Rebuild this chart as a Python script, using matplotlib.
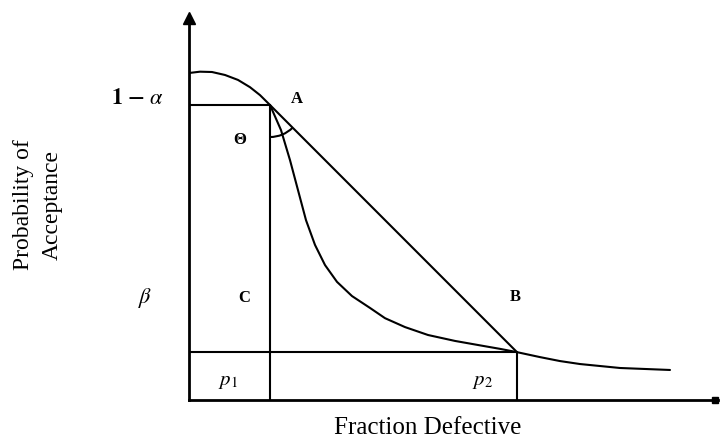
import numpy as np
import matplotlib.pyplot as plt
from matplotlib.patches import Arc
from matplotlib.transforms import ScaledTranslation

plt.rcParams['font.family'] = ['Liberation Serif', 'DejaVu Serif']
plt.rcParams['mathtext.fontset'] = 'stix'

# ============================================================
# Schematic OC-curve data (fraction defective, P(accept))
# ============================================================

p1 = 0.081
p2 = 0.328
one_minus_alpha = 0.894
beta = 0.145

# curve above A
upper_x = [0.000, 0.011, 0.023, 0.036, 0.049, 0.061, 0.071, 0.081]
upper_y = [0.991, 0.995, 0.994, 0.985, 0.970, 0.948, 0.924, 0.894]

# steep curve from A through B and the tail
lower_x = [0.081, 0.092, 0.101, 0.109, 0.117, 0.126, 0.136, 0.148, 0.163,
           0.181, 0.196, 0.216, 0.239, 0.266, 0.294, 0.311, 0.328, 0.351,
           0.371, 0.391, 0.411, 0.431, 0.456, 0.481]
lower_y = [0.894, 0.818, 0.727, 0.636, 0.545, 0.470, 0.409, 0.358, 0.315,
           0.279, 0.248, 0.221, 0.197, 0.179, 0.164, 0.155, 0.145, 0.130,
           0.118, 0.109, 0.103, 0.097, 0.094, 0.091]

x_max = 0.529
y_max = 1.188

# ============================================================
# Figure
# ============================================================

fig = plt.figure(figsize=(7.2, 4.41), dpi=100)
ax = fig.add_axes([189 / 720, 41 / 441, 529 / 720, 392 / 441])
ax.set_xlim(0, x_max)
ax.set_ylim(0, y_max)
ax.axis('off')

lw = 1.5
col = 'black'
kw = dict(color=col, lw=lw, solid_joinstyle='round', solid_capstyle='round')

# axes with arrows
ax.plot([0, 0], [0, y_max - 0.02], color=col, lw=2.0, clip_on=False)
ax.plot([0, x_max], [0, 0], color=col, lw=2.0, clip_on=False)
ax.plot([0], [y_max - 0.03], marker='^', color=col, ms=8, clip_on=False)
ax.plot([x_max - 0.003], [0], marker='s', color=col, ms=4, clip_on=False)

# curves
ax.plot(upper_x, upper_y, **kw)
ax.plot(lower_x, lower_y, **kw)

# straight line A -> B
ax.plot([p1, p2], [one_minus_alpha, beta], **kw)

# guide lines
ax.plot([0, p1], [one_minus_alpha, one_minus_alpha], **kw)
ax.plot([p1, p1], [0, one_minus_alpha], **kw)
ax.plot([0, p2], [beta, beta], **kw)
ax.plot([p2, p2], [0, beta], **kw)

# angle arc at A
r = 0.32
arc = Arc((0, 0), 2 * r, 2 * r, theta1=270, theta2=315, color=col, lw=lw,
          transform=fig.dpi_scale_trans
          + ScaledTranslation(p1, one_minus_alpha, ax.transData))
ax.add_patch(arc)

# ============================================================
# Labels
# ============================================================

ax.text(-0.052, 0.912, r'$\mathbf{1}\ \mathbf{-}\ \alpha$', fontsize=16,
        ha='center', va='center', clip_on=False)
ax.text(-0.044, 0.309, r'$\beta$', fontsize=16,
        ha='center', va='center', clip_on=False)
ax.text(0.108, 0.912, 'A', fontsize=12, fontweight='bold', ha='center', va='center')
ax.text(0.055, 0.309, 'C', fontsize=12, fontweight='bold', ha='center', va='center')
ax.text(0.326, 0.312, 'B', fontsize=12, fontweight='bold', ha='center', va='center')
ax.text(0.051, 0.788, 'Θ', fontsize=12, fontweight='bold', ha='center', va='center')
ax.text(0.039, 0.055, r'$p_1$', fontsize=15, ha='center', va='center')
ax.text(0.294, 0.055, r'$p_2$', fontsize=15, ha='center', va='center')

fig.text(428 / 720, 1 - 428 / 441, 'Fraction Defective', fontsize=18,
         ha='center', va='center')
fig.text(38 / 720, 1 - 205 / 441, 'Probability of\nAcceptance', fontsize=17,
         ha='center', va='center', rotation=90, linespacing=1.5)

fig.savefig('out.png', dpi=100)
